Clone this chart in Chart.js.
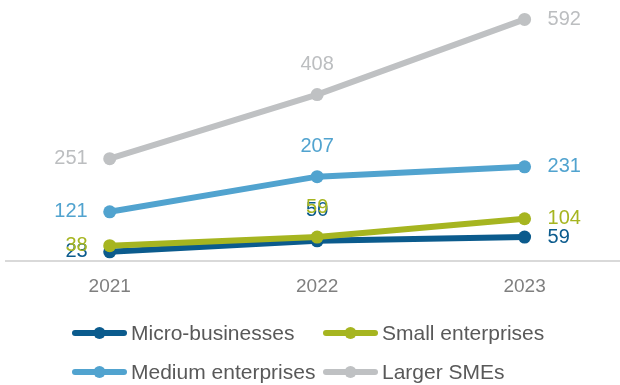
<!DOCTYPE html>
<html>
<head>
<meta charset="utf-8">
<script src="https://cdn.jsdelivr.net/npm/chart.js@4/dist/chart.umd.min.js"></script>
<style>
  html, body { margin: 0; padding: 0; background: #ffffff; }
  #wrap { width: 620px; height: 385px; position: relative; }
</style>
</head>
<body>
<div id="wrap"><canvas id="c" width="620" height="385"></canvas></div>
<script>
// Years on the horizontal axis
const categories = ['2021', '2022', '2023'];

// Series values per year
const microBusinesses = [23, 50, 59];
const smallEnterprises = [38, 59, 104];
const mediumEnterprises = [121, 207, 231];
const largerSMEs = [251, 408, 592];

const seriesNames = ['Micro-businesses', 'Small enterprises', 'Medium enterprises', 'Larger SMEs'];
const seriesColors = ['#0b5b8d', '#a6b520', '#51a3cf', '#bfc1c3'];
const labelColors = ['#0b5b8d', '#a6b520', '#51a3cf', '#bcbec0'];
const seriesValues = [microBusinesses, smallEnterprises, mediumEnterprises, largerSMEs];
const drawOrder = [4, 3, 2, 1];

const FONT = '"Liberation Sans", Arial, sans-serif';

const datasets = seriesValues.map((vals, s) => ({
  label: seriesNames[s],
  data: vals.map((v, i) => ({ x: i, y: v })),
  borderColor: seriesColors[s],
  backgroundColor: seriesColors[s],
  pointBackgroundColor: seriesColors[s],
  pointBorderColor: seriesColors[s],
  borderWidth: 6,
  pointRadius: 6.5,
  pointHoverRadius: 6.5,
  pointBorderWidth: 0,
  tension: 0,
  order: drawOrder[s],
  labelColor: labelColors[s]
}));

// Value labels: left of the first point, above the middle one, right of the last
const valueLabels = {
  id: 'valueLabels',
  afterDatasetsDraw(chart) {
    const ctx = chart.ctx;
    ctx.save();
    ctx.font = '20px ' + FONT;
    ctx.textBaseline = 'middle';
    chart.data.datasets.forEach((ds, di) => {
      const meta = chart.getDatasetMeta(di);
      meta.data.forEach((pt, i) => {
        const txt = String(ds.data[i].y);
        ctx.fillStyle = ds.labelColor;
        if (i === 0) {
          ctx.textAlign = 'right';
          ctx.fillText(txt, pt.x - 22, pt.y);
        } else if (i === meta.data.length - 1) {
          ctx.textAlign = 'left';
          ctx.fillText(txt, pt.x + 23, pt.y);
        } else {
          ctx.textAlign = 'center';
          ctx.fillText(txt, pt.x, pt.y - 30);
        }
      });
    });
    ctx.restore();
  }
};

// Two-column legend with line-and-dot swatches
const gridLegend = {
  id: 'gridLegend',
  afterDraw(chart) {
    const ctx = chart.ctx;
    const cols = [72, 323];
    const rows = [333, 372];
    ctx.save();
    ctx.font = '21px ' + FONT;
    ctx.textBaseline = 'middle';
    ctx.textAlign = 'left';
    chart.data.datasets.forEach((ds, i) => {
      const x = cols[i % 2];
      const y = rows[Math.floor(i / 2)];
      ctx.strokeStyle = ds.borderColor;
      ctx.lineWidth = 6;
      ctx.lineCap = 'round';
      ctx.beginPath();
      ctx.moveTo(x + 3, y);
      ctx.lineTo(x + 52, y);
      ctx.stroke();
      ctx.fillStyle = ds.borderColor;
      ctx.beginPath();
      ctx.arc(x + 27.5, y, 6, 0, Math.PI * 2);
      ctx.fill();
      ctx.fillStyle = '#595959';
      ctx.fillText(ds.label, x + 59, y + 1);
    });
    ctx.restore();
  }
};

new Chart(document.getElementById('c'), {
  type: 'line',
  data: { datasets },
  plugins: [valueLabels, gridLegend],
  options: {
    responsive: false,
    animation: false,
    devicePixelRatio: 1,
    layout: { autoPadding: false, padding: { top: 8, left: 6, right: 0, bottom: 73 } },
    plugins: {
      legend: { display: false },
      tooltip: { enabled: false }
    },
    scales: {
      x: {
        type: 'linear',
        min: -0.5,
        max: 2.46,
        afterBuildTicks(scale) {
          scale.ticks = categories.map((_, i) => ({ value: i }));
        },
        afterFit(scale) {
          scale.paddingLeft = 0;
          scale.paddingRight = 0;
        },
        grid: { display: false, drawTicks: false },
        border: { display: true, color: '#d9d9d9', width: 2 },
        ticks: {
          padding: 14,
          color: '#7f7f7f',
          font: { family: FONT, size: 19 },
          callback: (v) => categories[v] ?? ''
        }
      },
      y: {
        display: false,
        min: 0,
        max: 620
      }
    }
  }
});
</script>
</body>
</html>
